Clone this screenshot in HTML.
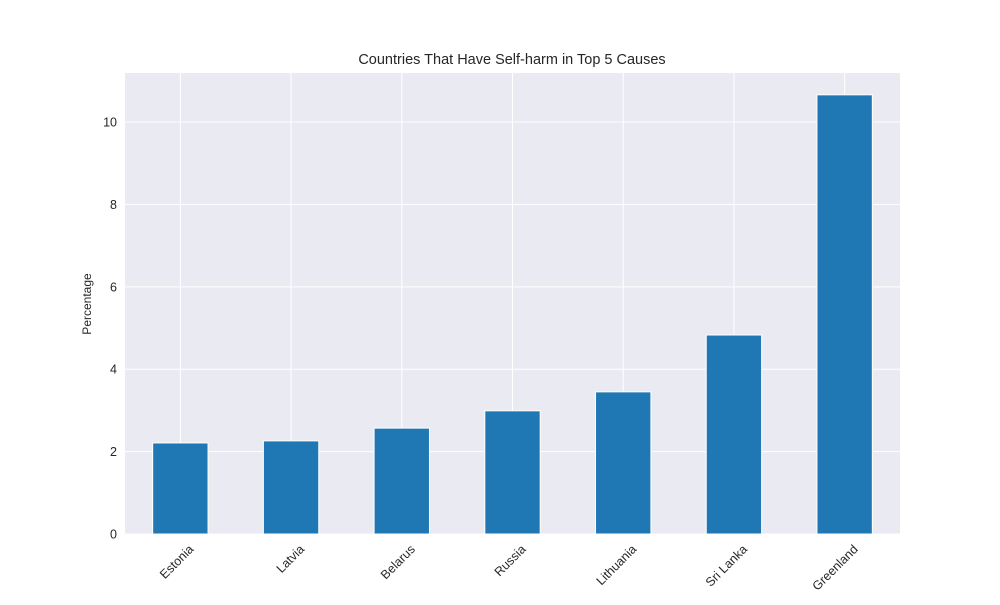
<!DOCTYPE html>
<html><head><meta charset="utf-8"><style>
body{margin:0;background:#fff;font-family:"Liberation Sans","DejaVu Sans",sans-serif;}
</style></head><body>
<svg id="chart" width="1000" height="600" xmlns="http://www.w3.org/2000/svg">
<rect x="0" y="0" width="1000" height="600" fill="#fff"/>
<rect x="125" y="73" width="775" height="461" fill="#eaeaf2"/>
<g id="grid"></g><g id="bars"></g><g id="ticks"></g>
<text x="512" y="64" text-anchor="middle" font-size="14.5" fill="#262626">Countries That Have Self-harm in Top 5 Causes</text>
<text transform="translate(91,304) rotate(-90)" text-anchor="middle" font-size="12" fill="#262626">Percentage</text>
</svg>
<script>
const categories=["Estonia","Latvia","Belarus","Russia","Lithuania","Sri Lanka","Greenland"];
const values=[2.21,2.26,2.57,2.99,3.45,4.83,10.66];
const yTicks=[0,2,4,6,8,10];
const L=125,R=900,T=73,B=534,yMax=11.19;
const ns="http://www.w3.org/2000/svg";
const band=(R-L)/categories.length;
const xs=i=>L+band*(i+0.5);
const ys=v=>B-(v/yMax)*(B-T);
function mk(t,a,p){const e=document.createElementNS(ns,t);for(const k in a)e.setAttribute(k,a[k]);p.appendChild(e);return e;}
const grid=document.getElementById('grid'),bars=document.getElementById('bars'),ticks=document.getElementById('ticks');
yTicks.forEach(v=>{
 const l=mk('line',{x1:L,x2:R,y1:ys(v),y2:ys(v),stroke:'#fff','stroke-width':1},grid);
 
 
 const t=mk('text',{x:L-8,y:ys(v)+4.5,'text-anchor':'end','font-size':12.5,fill:'#262626'},ticks);
 t.textContent=v;
 
 
});
categories.forEach((c,i)=>{
 const l=mk('line',{x1:xs(i),x2:xs(i),y1:T,y2:B,stroke:'#fff','stroke-width':1},grid);
 
 
 const w=band*0.5;
 const r=mk('rect',{x:xs(i)-w/2,y:ys(values[i]),width:w,height:B-ys(values[i]),fill:'#1f77b4',stroke:'#fff','stroke-width':1},bars);
 
 
 const x=xs(i)+14,y=B+16;
 const t=mk('text',{x:x,y:y,'text-anchor':'end','font-size':12.5,fill:'#262626',transform:`rotate(-45 ${x} ${y})`},ticks);
 t.textContent=c;
 
 
});
</script>
</body></html>
